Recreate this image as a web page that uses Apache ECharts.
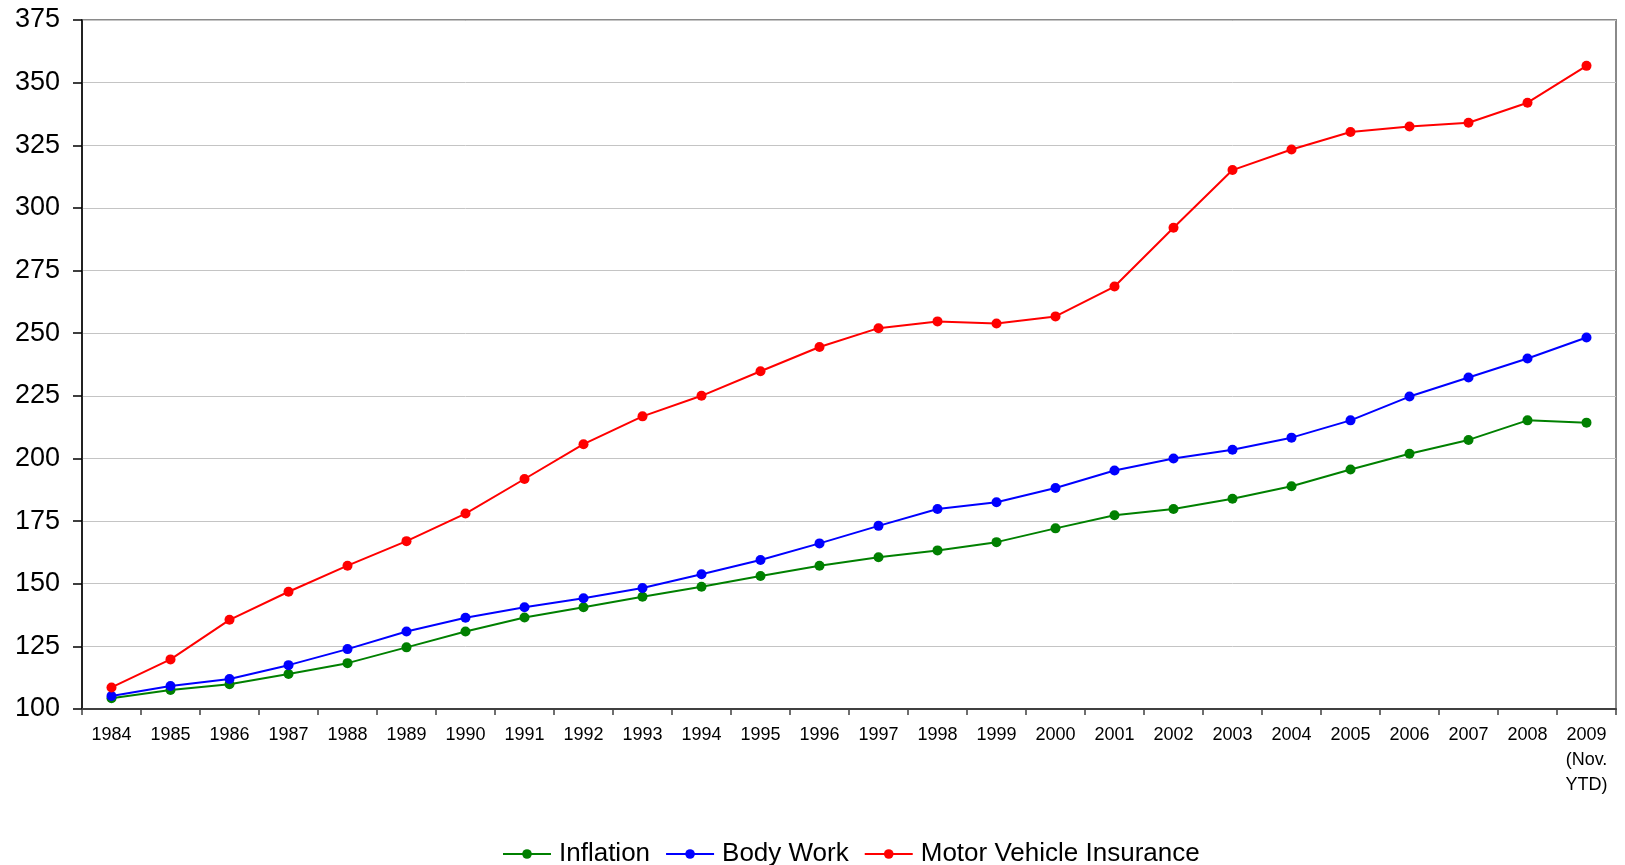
<!DOCTYPE html>
<html>
<head>
<meta charset="utf-8">
<script src="https://cdn.jsdelivr.net/npm/echarts@6/dist/echarts.min.js"></script>
<style>
  html, body { margin: 0; padding: 0; background: #ffffff; }
  #chart { width: 1625px; height: 865px; }
</style>
</head>
<body>
<div id="chart"></div>
<script>
// Years on the category axis (last year is a partial-year figure)
const years = [
  '1984', '1985', '1986', '1987', '1988', '1989', '1990', '1991', '1992',
  '1993', '1994', '1995', '1996', '1997', '1998', '1999', '2000', '2001',
  '2002', '2003', '2004', '2005', '2006', '2007', '2008', '2009\n(Nov.\nYTD)'
];

// Index values (base = 100)
const inflation = [
  104.3, 107.6, 109.9, 114.0, 118.3, 124.6, 130.9, 136.5, 140.6,
  144.8, 148.8, 153.1, 157.2, 160.6, 163.3, 166.6, 172.1, 177.3,
  179.8, 183.9, 188.9, 195.6, 201.9, 207.4, 215.2, 214.3
];
const bodyWork = [
  105.2, 109.2, 112.0, 117.5, 123.9, 130.9, 136.4, 140.6, 144.2,
  148.3, 153.8, 159.5, 166.1, 173.1, 179.8, 182.5, 188.2, 195.2,
  200.0, 203.5, 208.3, 215.2, 224.7, 232.3, 239.9, 248.3
];
const motorInsurance = [
  108.6, 119.8, 135.6, 146.8, 157.2, 167.0, 178.0, 191.8, 205.7,
  216.8, 225.0, 234.8, 244.5, 252.0, 254.7, 253.9, 256.7, 268.6,
  292.1, 315.1, 323.3, 330.3, 332.5, 334.0, 342.0, 356.7
];

// Value axis range
const yMin = 100;
const yMax = 375;
const yStep = 25;

const FONT = '"Liberation Sans", Arial, Helvetica, sans-serif';

function lineSeries(name, data, color) {
  return {
    name: name,
    type: 'line',
    data: data,
    symbol: 'circle',
    symbolSize: 10,
    showSymbol: true,
    itemStyle: { color: color },
    lineStyle: { color: color, width: 2 },
    emphasis: { disabled: true },
    animation: false
  };
}

const chart = echarts.init(document.getElementById('chart'), null, { renderer: 'canvas' });

chart.setOption({
  backgroundColor: '#ffffff',
  animation: false,
  textStyle: { fontFamily: FONT },
  grid: {
    left: 82,
    right: 9,
    top: 20,
    bottom: 156,
    show: true,
    borderColor: '#8a8a8a',
    borderWidth: 2,
    backgroundColor: 'transparent'
  },
  legend: {
    data: ['Inflation', 'Body Work', 'Motor Vehicle Insurance'],
    left: 497,
    top: 834,
    itemWidth: 48,
    itemHeight: 12,
    itemGap: 15,
    textStyle: {
      fontFamily: FONT,
      fontSize: 26,
      color: '#000000',
      lineHeight: 30,
      padding: [0, 0, 0, 3]
    }
  },
  xAxis: {
    type: 'category',
    data: years,
    boundaryGap: true,
    axisLine: { show: true, lineStyle: { color: '#404040', width: 2 } },
    axisTick: { show: true, length: 6, lineStyle: { color: '#404040', width: 1.5 } },
    axisLabel: {
      interval: 0,
      margin: 14,
      fontFamily: FONT,
      fontSize: 18,
      lineHeight: 25,
      color: '#000000',
      verticalAlign: 'top'
    },
    splitLine: { show: false }
  },
  yAxis: {
    type: 'value',
    min: yMin,
    max: yMax,
    interval: yStep,
    axisLine: { show: true, onZero: false, lineStyle: { color: '#000000', width: 1.5 } },
    axisTick: { show: true, length: 9, lineStyle: { color: '#000000', width: 1.5 } },
    axisLabel: {
      margin: 22,
      fontFamily: FONT,
      fontSize: 27,
      color: '#000000'
    },
    splitLine: { show: true, lineStyle: { color: '#c4c4c4', width: 1 } }
  },
  series: [
    lineSeries('Inflation', inflation, '#008000'),
    lineSeries('Body Work', bodyWork, '#0000ff'),
    lineSeries('Motor Vehicle Insurance', motorInsurance, '#ff0000')
  ]
});
</script>
</body>
</html>
